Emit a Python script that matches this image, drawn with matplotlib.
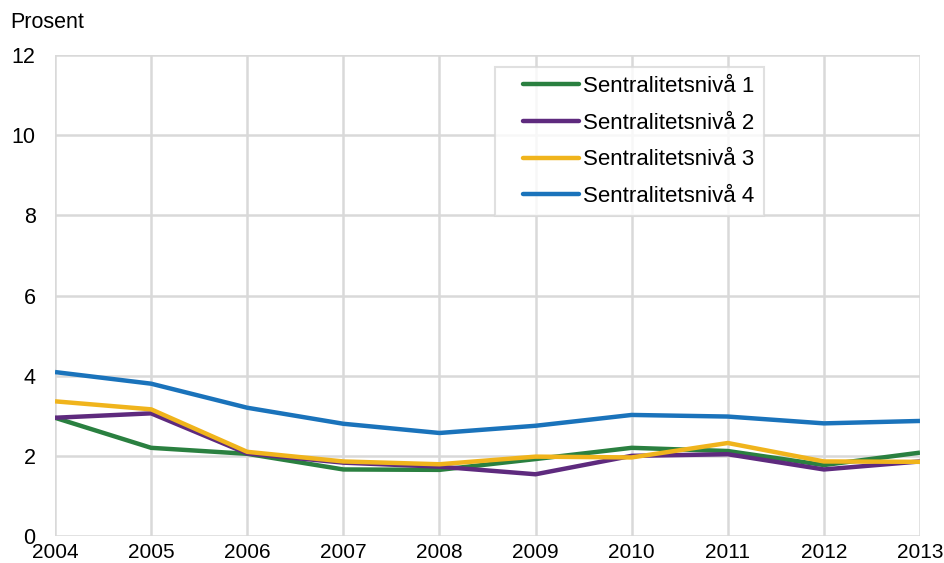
import matplotlib
matplotlib.use("Agg")
import matplotlib.pyplot as plt
from matplotlib.lines import Line2D
from matplotlib.legend_handler import HandlerLine2D

plt.rcParams['font.family'] = ['Liberation Sans', 'DejaVu Sans']

years = [2004, 2005, 2006, 2007, 2008, 2009, 2010, 2011, 2012, 2013]
niva1 = [2.95, 2.20, 2.05, 1.66, 1.65, 1.92, 2.20, 2.12, 1.77, 2.08]
niva2 = [2.95, 3.06, 2.06, 1.83, 1.73, 1.54, 2.00, 2.04, 1.66, 1.86]
niva3 = [3.36, 3.16, 2.10, 1.86, 1.79, 1.98, 1.96, 2.32, 1.86, 1.85]
niva4 = [4.09, 3.80, 3.20, 2.80, 2.57, 2.75, 3.02, 2.98, 2.81, 2.87]
labels = ['Sentralitetsnivå 1', 'Sentralitetsnivå 2', 'Sentralitetsnivå 3', 'Sentralitetsnivå 4']
colors = ['#2a8040', '#5e2a7e', '#f0b41c', '#1a73bb']

fig = plt.figure(figsize=(9.44, 5.63), dpi=100)
ax = fig.add_axes([55/944, 27/563, 865/944, 481/563])

for vals, lab, col in zip([niva1, niva2, niva3, niva4], labels, colors):
    ax.plot(years, vals, color=col, linewidth=3.2, label=lab, solid_capstyle='butt', zorder=3)

ax.set_xlim(2004, 2013)
ax.set_ylim(0, 12)
ax.set_xticks(years)
ax.set_yticks(range(0, 13, 2))
ax.grid(True, color='#d9d9d9', linewidth=1.8, zorder=0)
for s in ax.spines.values():
    s.set_visible(False)
ax.tick_params(length=0, labelsize=15.5, colors='#000000')
ax.tick_params(axis='y', pad=14)
ax.tick_params(axis='x', pad=5, labelsize=15)

fig.text(10/944, 1 - 22/563, 'Prosent', fontsize=15.5, va='center', ha='left')

leg = ax.legend(loc='upper left', bbox_to_anchor=(495/944, 1 - 67/563),
                bbox_transform=fig.transFigure, fontsize=16, frameon=True, fancybox=False,
                edgecolor='#d9d9d9', handlelength=3.36, handletextpad=0.22, borderpad=0.4,
                labelspacing=0.71, borderaxespad=0,
                handler_map={Line2D: HandlerLine2D(xpad=0.86)})
leg.get_frame().set_linewidth(1.5)
for h in leg.get_lines():
    h.set_solid_capstyle('round')

fig.savefig('out.png', dpi=100)
